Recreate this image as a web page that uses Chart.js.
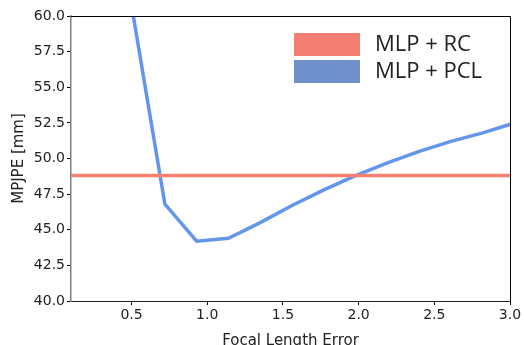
<!DOCTYPE html>
<html>
<head>
<meta charset="utf-8">
<script src="https://cdn.jsdelivr.net/npm/chart.js@4"></script>
<style>
  html, body { margin: 0; padding: 0; background: #fff; }
  #wrap { width: 524px; height: 345px; }
</style>
</head>
<body>
<div id="wrap"><canvas id="chart"></canvas></div>
<script>
// focal length error values (x) and MPJPE readings
const focalErrors = [0.51, 0.72, 0.93, 1.14, 1.35, 1.56, 1.77, 1.98, 2.19, 2.40, 2.61, 2.82, 3.03];
const pclValues   = [60.1, 46.8, 44.2, 44.4, 45.5, 46.7, 47.8, 48.8, 49.7, 50.5, 51.2, 51.8, 52.5];
const rcValue = 48.8;
const xRange = [0.1, 3.0];
const xTicks = [0.5, 1.0, 1.5, 2.0, 2.5, 3.0];
const yTicks = [40.0, 42.5, 45.0, 47.5, 50.0, 52.5, 55.0, 57.5, 60.0];
const seriesNames = ['MLP + RC', 'MLP + PCL'];
const legendColors = ['#f37f72', '#6f90cb'];

const tickFont = { family: 'DejaVu Sans', size: 14 };

// box around plot + legend drawn by hand
const framePlugin = {
  id: 'frame',
  afterDraw(chart) {
    const c = chart.ctx, a = chart.chartArea;
    c.save();
    c.strokeStyle = '#000';
    c.lineWidth = 1;
    c.beginPath();
    c.moveTo(a.left, a.top + 0.5);
    c.lineTo(a.right + 0.5, a.top + 0.5);
    c.lineTo(a.right + 0.5, a.bottom);
    c.stroke();

    c.font = '22px "Open Sans"';
    c.textBaseline = 'middle';
    seriesNames.forEach((name, i) => {
      const y = a.top + 17 + i * 27;
      c.fillStyle = legendColors[i];
      c.fillRect(a.left + 223, y, 66, 23);
      c.fillStyle = '#222';
      c.fillText(name, a.left + 304, y + 12);
    });
    c.restore();
  }
};

new Chart(document.getElementById('chart'), {
  type: 'line',
  data: {
    datasets: [
      {
        label: seriesNames[0],
        data: [{ x: xRange[0], y: rcValue }, { x: xRange[1], y: rcValue }],
        borderColor: '#fa8072',
        borderWidth: 3.5,
        pointRadius: 0,
        clip: 0
      },
      {
        label: seriesNames[1],
        data: focalErrors.map((x, i) => ({ x: x, y: pclValues[i] })),
        borderColor: '#6495ed',
        borderWidth: 3.5,
        pointRadius: 0,
        clip: 0
      }
    ]
  },
  options: {
    responsive: true,
    maintainAspectRatio: false,
    animation: false,
    layout: { padding: { top: 16, right: 14, left: 10, bottom: 0 } },
    plugins: { legend: { display: false }, tooltip: { enabled: false } },
    scales: {
      x: {
        type: 'linear',
        min: xRange[0],
        max: xRange[1],
        afterBuildTicks(axis) { axis.ticks = xTicks.map(v => ({ value: v })); },
        afterFit(axis) { axis.height = 44; },
        grid: { drawOnChartArea: false, tickLength: 4, color: '#000' },
        border: { color: '#222', width: 1 },
        ticks: { font: tickFont, color: '#222', padding: 2, maxRotation: 0,
                 callback: v => v.toFixed(1) },
        title: { display: true, text: 'Focal Length Error', font: { family: 'DejaVu Sans', size: 15 },
                 color: '#222', padding: { top: 0, bottom: -5 } }
      },
      y: {
        min: 40,
        max: 60,
        afterBuildTicks(axis) { axis.ticks = yTicks.map(v => ({ value: v })); },
        afterFit(axis) { axis.width = 61; },
        grid: { drawOnChartArea: false, tickLength: 4, color: '#000' },
        border: { color: '#808080', width: 1.5 },
        ticks: { font: tickFont, color: '#222', padding: 2,
                 callback: v => v.toFixed(1) },
        title: { display: true, text: 'MPJPE [mm]', font: { family: 'DejaVu Sans', size: 15 },
                 color: '#222', padding: 0 }
      }
    }
  },
  plugins: [framePlugin]
});
</script>
</body>
</html>
